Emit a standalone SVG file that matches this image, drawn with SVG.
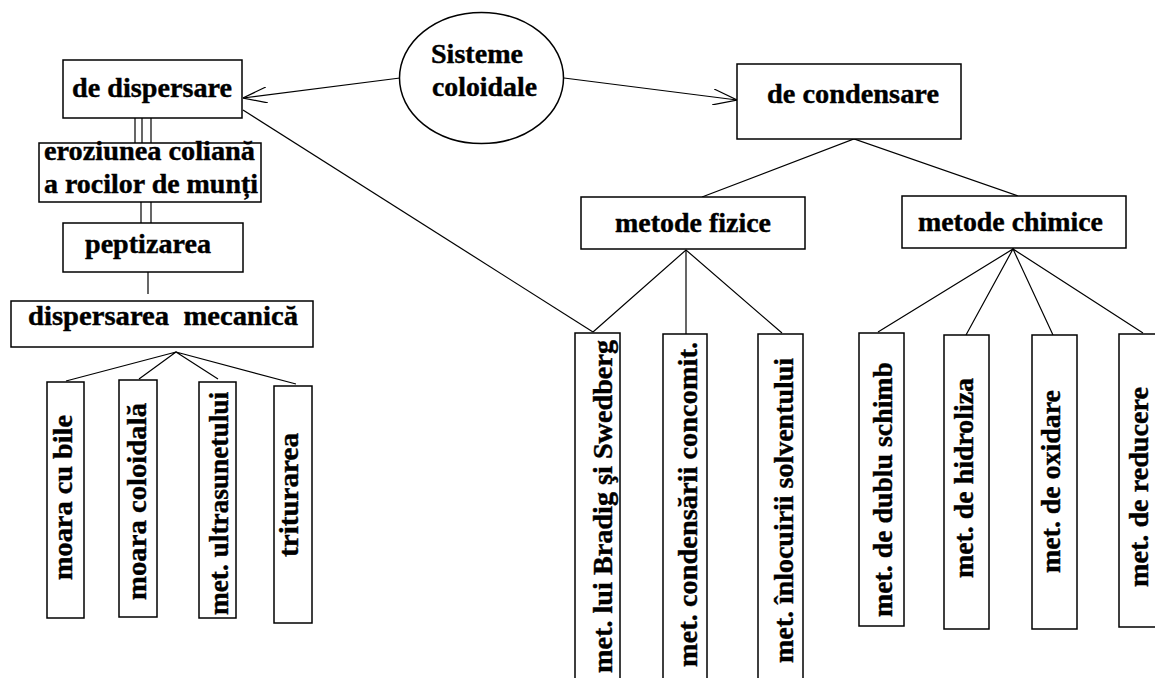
<svg xmlns="http://www.w3.org/2000/svg" width="1155" height="678" viewBox="0 0 1155 678">
<style>
.box{fill:#fff;stroke:#000;stroke-width:1.5}
.ln{fill:none;stroke:#000;stroke-width:1.2}
text{font-family:"Liberation Serif","Times New Roman",serif;font-weight:bold;font-size:27px;fill:#000;stroke:#000;stroke-width:0.4}
.c{text-anchor:middle}
</style>
<defs>
<marker id="open" viewBox="0 0 24 16" refX="24" refY="8" markerWidth="24" markerHeight="16" markerUnits="userSpaceOnUse" orient="auto">
<path d="M0,0 L24,8 L0,16" fill="none" stroke="#000" stroke-width="1.2"/>
</marker>
</defs>
<rect width="1155" height="678" fill="#fff"/>
<g id="connectors">
<line class="ln" x1="400" y1="78" x2="243" y2="98" marker-end="url(#open)"/>
<line class="ln" x1="564" y1="78" x2="737" y2="100" marker-end="url(#open)"/>
<line class="ln" x1="243" y1="110" x2="593" y2="332"/>
<line class="ln" x1="135" y1="118" x2="135" y2="143"/>
<line class="ln" x1="142" y1="118" x2="142" y2="143"/>
<line class="ln" x1="151" y1="118" x2="151" y2="143"/>
<line class="ln" x1="141" y1="202" x2="141" y2="223"/>
<line class="ln" x1="151" y1="202" x2="151" y2="223"/>
<line class="ln" x1="148" y1="272" x2="148" y2="294"/>
<polyline class="ln" points="66,381 176,352 139,379"/>
<polyline class="ln" points="218,379 176,352 296,384"/>
<polyline class="ln" points="702,197 854,139 1018,196"/>
<polyline class="ln" points="593,332 686,250 782,333"/>
<line class="ln" x1="686" y1="250" x2="686" y2="334"/>
<polyline class="ln" points="878,332 1013,249 966,335"/>
<polyline class="ln" points="1053,335 1013,249 1143,333"/>
</g>
<g id="sisteme">
<ellipse class="box" cx="481.5" cy="78" rx="82" ry="65.5"/>
<text x="431" y="63" textLength="92" lengthAdjust="spacingAndGlyphs">Sisteme</text>
<text x="432" y="96" textLength="105" lengthAdjust="spacingAndGlyphs">coloidale</text>
</g>
<g id="dispersare">
<rect class="box" x="63" y="60" width="179" height="58"/>
<text x="72" y="97" textLength="160" lengthAdjust="spacingAndGlyphs">de dispersare</text>
</g>
<g id="eroziunea">
<rect class="box" x="39" y="143" width="222" height="59"/>
<text x="44" y="160" textLength="211" lengthAdjust="spacingAndGlyphs">eroziunea coliană</text>
<text x="44" y="193" textLength="214" lengthAdjust="spacingAndGlyphs">a rocilor de munți</text>
</g>
<g id="peptizarea">
<rect class="box" x="63" y="223" width="180" height="49"/>
<text x="85" y="253" textLength="126" lengthAdjust="spacingAndGlyphs">peptizarea</text>
</g>
<g id="dispersarea-mecanica">
<rect class="box" x="11" y="301" width="302" height="46"/>
<text x="28" y="325" textLength="270" lengthAdjust="spacingAndGlyphs" xml:space="preserve">dispersarea  mecanică</text>
</g>
<g id="moara-bile">
<rect class="box" x="47" y="382" width="37" height="236"/>
<text class="c" transform="translate(72,497.5) rotate(-90)" textLength="165" lengthAdjust="spacingAndGlyphs">moara cu bile</text>
</g>
<g id="moara-coloidala">
<rect class="box" x="119" y="380" width="38" height="237"/>
<text class="c" transform="translate(146,501.5) rotate(-90)" textLength="197" lengthAdjust="spacingAndGlyphs">moara coloidală</text>
</g>
<g id="ultrasunet">
<rect class="box" x="199" y="382" width="37" height="236"/>
<text class="c" transform="translate(228,503.5) rotate(-90)" textLength="223" lengthAdjust="spacingAndGlyphs">met. ultrasunetului</text>
</g>
<g id="triturarea">
<rect class="box" x="274" y="386" width="38" height="237"/>
<text class="c" transform="translate(298,495) rotate(-90)" textLength="124" lengthAdjust="spacingAndGlyphs">triturarea</text>
</g>
<g id="condensare">
<rect class="box" x="737" y="64" width="224" height="75"/>
<text x="767" y="103" textLength="172" lengthAdjust="spacingAndGlyphs">de condensare</text>
</g>
<g id="fizice">
<rect class="box" x="581" y="197" width="224" height="52"/>
<text x="615" y="232" textLength="156" lengthAdjust="spacingAndGlyphs">metode fizice</text>
</g>
<g id="chimice">
<rect class="box" x="902" y="196" width="224" height="52"/>
<text x="918" y="231" textLength="185" lengthAdjust="spacingAndGlyphs">metode chimice</text>
</g>
<g id="bradig">
<rect class="box" x="575" y="333" width="45" height="360"/>
<text class="c" transform="translate(612,506.5) rotate(-90)" textLength="333" lengthAdjust="spacingAndGlyphs">met. lui Bradig şi Swedberg</text>
</g>
<g id="condensarii">
<rect class="box" x="663" y="334" width="44" height="360"/>
<text class="c" transform="translate(697,504.5) rotate(-90)" textLength="325" lengthAdjust="spacingAndGlyphs">met. condensării concomit.</text>
</g>
<g id="inlocuirii">
<rect class="box" x="758" y="334" width="45" height="360"/>
<text class="c" transform="translate(793,510.5) rotate(-90)" textLength="305" lengthAdjust="spacingAndGlyphs">met. înlocuirii solventului</text>
</g>
<g id="dublu-schimb">
<rect class="box" x="859" y="333" width="45" height="293"/>
<text class="c" transform="translate(892,489.5) rotate(-90)" textLength="255" lengthAdjust="spacingAndGlyphs">met. de dublu schimb</text>
</g>
<g id="hidroliza">
<rect class="box" x="944" y="335" width="45" height="294"/>
<text class="c" transform="translate(973,478) rotate(-90)" textLength="200" lengthAdjust="spacingAndGlyphs">met. de hidroliza</text>
</g>
<g id="oxidare">
<rect class="box" x="1032" y="335" width="45" height="294"/>
<text class="c" transform="translate(1060,481.5) rotate(-90)" textLength="183" lengthAdjust="spacingAndGlyphs">met. de oxidare</text>
</g>
<g id="reducere">
<rect class="box" x="1119" y="334" width="45" height="293"/>
<text class="c" transform="translate(1148,487) rotate(-90)" textLength="200" lengthAdjust="spacingAndGlyphs">met. de reducere</text>
</g>
</svg>
